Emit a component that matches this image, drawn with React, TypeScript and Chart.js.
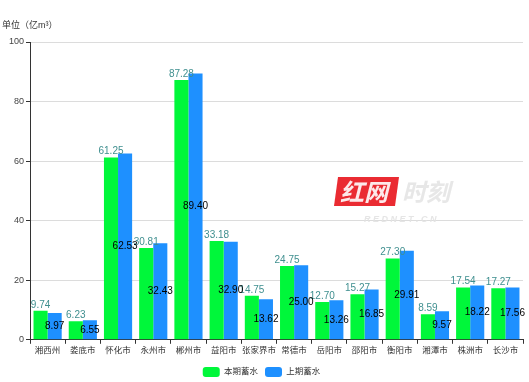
import React, { useEffect, useRef } from "react";
import { Chart, registerables } from "chart.js";

Chart.register(...registerables);

const categories = ["湘西州", "娄底市", "怀化市", "永州市", "郴州市", "益阳市", "张家界市", "常德市", "岳阳市", "邵阳市", "衡阳市", "湘潭市", "株洲市", "长沙市"];
const currentStorage = [9.74, 6.23, 61.25, 30.81, 87.28, 33.18, 14.75, 24.75, 12.7, 15.27, 27.3, 8.59, 17.54, 17.27];
const previousStorage = [8.97, 6.55, 62.53, 32.43, 89.4, 32.9, 13.62, 25.0, 13.26, 16.85, 29.91, 9.57, 18.22, 17.56];
const seriesNames = ["本期蓄水", "上期蓄水"];
const unitTitle = "单位（亿m³）";

const FONT = "'Liberation Sans', 'Noto Sans CJK SC', Arial, sans-serif";

const labelPlugin = {
  id: "valueLabels",
  afterDatasetsDraw(chart: any) {
    const ctx = chart.ctx;
    ctx.save();
    ctx.textAlign = "center";
    const m0 = chart.getDatasetMeta(0);
    ctx.font = `10px ${FONT}`;
    ctx.fillStyle = "#3f8f8f";
    ctx.textBaseline = "bottom";
    m0.data.forEach((bar: any, i: number) => {
      ctx.fillText(currentStorage[i].toFixed(2), bar.x, bar.y - 1);
    });
    const m1 = chart.getDatasetMeta(1);
    ctx.font = `10px ${FONT}`;
    ctx.fillStyle = "#000";
    ctx.textBaseline = "middle";
    m1.data.forEach((bar: any, i: number) => {
      ctx.fillText(previousStorage[i].toFixed(2), bar.x, (bar.y + bar.base) / 2);
    });
    ctx.restore();
  },
  afterDraw(chart: any) {
    const ctx = chart.ctx;
    ctx.save();
    ctx.font = `9px ${FONT}`;
    ctx.fillStyle = "#333";
    ctx.textAlign = "left";
    ctx.textBaseline = "middle";
    ctx.fillText(unitTitle, 2, 26);
    // watermark
    ctx.globalAlpha = 0.9;
    ctx.fillStyle = "#e8141c";
    ctx.beginPath();
    ctx.moveTo(338, 177);
    ctx.lineTo(399, 177);
    ctx.lineTo(395, 206);
    ctx.lineTo(334, 206);
    ctx.closePath();
    ctx.fill();
    ctx.font = `italic bold 24px 'Noto Sans CJK SC', sans-serif`;
    ctx.fillStyle = "#fff";
    ctx.textBaseline = "middle";
    ctx.fillText("红网", 340, 192);
    ctx.fillStyle = "#e4e4e4";
    ctx.fillText("时刻", 402, 192);
    ctx.font = `italic bold 9px ${FONT}`;
    ctx.fillStyle = "#e2e2e2";
    ctx.fillText("R E D N E T . C N", 364, 220);
    ctx.restore();
  },
};

export default function App() {
  const ref = useRef<HTMLCanvasElement | null>(null);
  useEffect(() => {
    document.body.style.margin = "0";
    const chart = new Chart(ref.current as HTMLCanvasElement, {
      type: "bar",
      data: {
        labels: categories,
        datasets: [
          {
            label: seriesNames[0],
            data: currentStorage,
            backgroundColor: "#00f73a",
            categoryPercentage: 0.8,
            barPercentage: 1.0,
          },
          {
            label: seriesNames[1],
            data: previousStorage,
            backgroundColor: "#1e90ff",
            categoryPercentage: 0.8,
            barPercentage: 1.0,
          },
        ],
      },
      options: {
        animation: false,
        responsive: false,
        maintainAspectRatio: false,
        layout: { padding: { top: 42, right: 6, left: 0, bottom: -5 } },
        plugins: {
          legend: {
            position: "bottom",
            labels: {
              boxWidth: 17,
              boxHeight: 10,
              padding: 7,
              color: "#333",
              font: { size: 8.5, family: FONT },
              useBorderRadius: true,
              borderRadius: 3,
            },
          },
          tooltip: { enabled: false },
        },
        scales: {
          x: {
            afterFit: (s: any) => { s.height = s.height + 2; },
            grid: { display: true, drawOnChartArea: false, drawTicks: true, tickLength: 4, color: "#333", offset: true },
            border: { display: true, color: "#333" },
            ticks: { color: "#333", font: { size: 8.5, family: FONT }, padding: 2, maxRotation: 0, autoSkip: false },
          },
          y: {
            min: 0,
            max: 100,
            afterFit: (s: any) => { s.width = 30; },
            ticks: { stepSize: 20, color: "#444", font: { size: 9, family: FONT }, padding: 2 },
            grid: { color: "#dcdcdc", tickLength: 4, tickColor: "#333" },
            border: { display: true, color: "#333" },
          },
        },
      },
      plugins: [labelPlugin],
    } as any);
    return () => chart.destroy();
  }, []);
  return (
    <div style={{ width: 529, height: 382 }}>
      <canvas ref={ref} width={529} height={382} style={{ display: "block" }} />
    </div>
  );
}
